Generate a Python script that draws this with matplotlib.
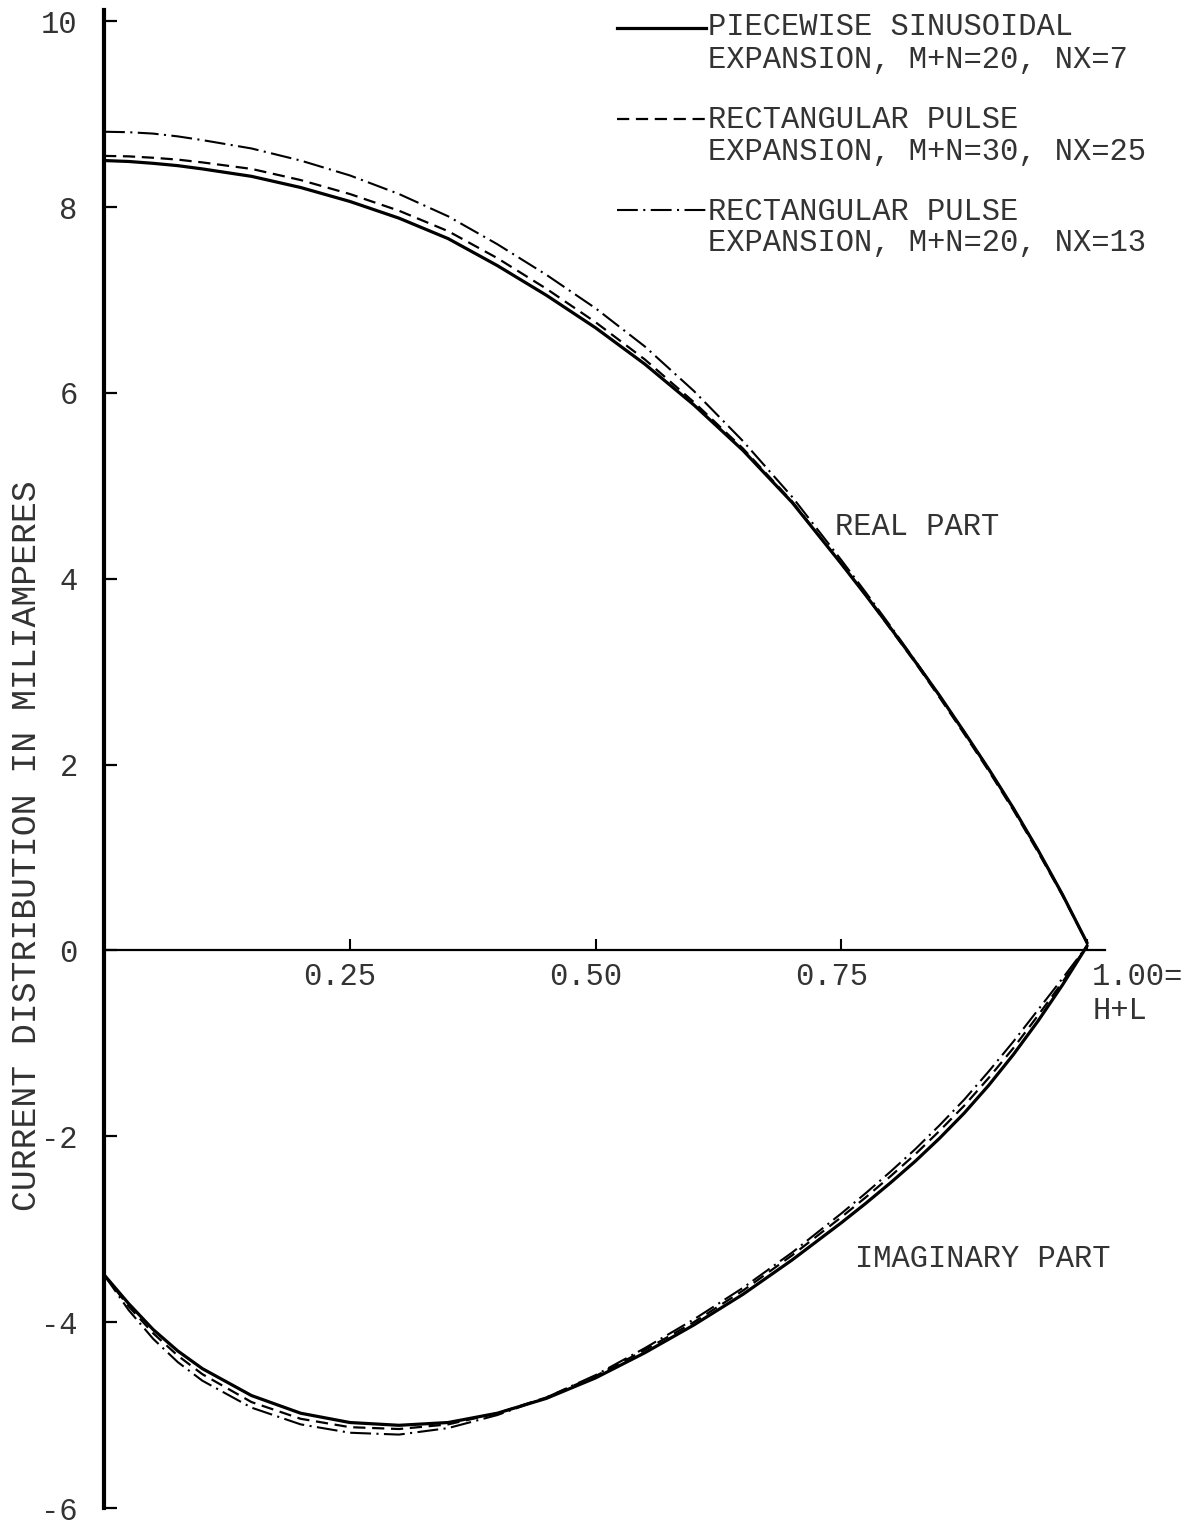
import matplotlib
matplotlib.use("Agg")
import matplotlib.pyplot as plt
import matplotlib.transforms as mtransforms
from matplotlib.lines import Line2D

# position along the antenna, normalised to H+L
x = [0.0, 0.025, 0.05, 0.075, 0.1, 0.15, 0.2, 0.25, 0.3, 0.35, 0.4, 0.45, 0.5, 0.55,
     0.6, 0.65, 0.7, 0.75, 0.775, 0.8, 0.825, 0.85, 0.875, 0.9, 0.925, 0.95, 0.975, 1.0]

# real part of the current (mA)
real_sin20 = [8.50, 8.49, 8.47, 8.445, 8.41, 8.33, 8.21, 8.06, 7.88, 7.66, 7.37, 7.05, 6.70, 6.31,
              5.87, 5.38, 4.82, 4.16, 3.82, 3.47, 3.11, 2.74, 2.35, 1.95, 1.53, 1.08, 0.60, 0.08]
real_pulse30 = [8.55, 8.545, 8.53, 8.51, 8.48, 8.41, 8.29, 8.14, 7.96, 7.74, 7.45, 7.12, 6.76, 6.36,
                5.90, 5.40, 4.83, 4.16, 3.82, 3.46, 3.10, 2.72, 2.33, 1.93, 1.51, 1.06, 0.59, 0.08]
real_pulse20 = [8.81, 8.805, 8.79, 8.76, 8.72, 8.63, 8.50, 8.34, 8.14, 7.90, 7.60, 7.27, 6.91, 6.50,
                6.02, 5.48, 4.88, 4.20, 3.85, 3.49, 3.12, 2.74, 2.35, 1.95, 1.53, 1.08, 0.60, 0.08]

# imaginary part of the current (mA)
imag_sin20 = [-3.49, -3.80, -4.08, -4.31, -4.50, -4.79, -4.98, -5.08, -5.11, -5.08, -4.98, -4.82, -4.60, -4.33,
              -4.03, -3.70, -3.33, -2.93, -2.72, -2.50, -2.27, -2.02, -1.75, -1.45, -1.12, -0.76, -0.37, 0.05]
imag_pulse30 = [-3.49, -3.83, -4.12, -4.36, -4.56, -4.86, -5.04, -5.13, -5.15, -5.10, -4.98, -4.81, -4.58, -4.30,
                -4.00, -3.66, -3.28, -2.87, -2.655, -2.43, -2.195, -1.94, -1.67, -1.37, -1.05, -0.70, -0.34, 0.05]
imag_pulse20 = [-3.49, -3.87, -4.18, -4.43, -4.63, -4.92, -5.10, -5.19, -5.21, -5.14, -5.00, -4.81, -4.57, -4.28,
                -3.97, -3.63, -3.25, -2.83, -2.61, -2.38, -2.14, -1.88, -1.605, -1.30, -0.98, -0.64, -0.30, 0.05]

yticks = [-6, -4, -2, 0, 2, 4, 6, 8, 10]
xticks = [0.25, 0.50, 0.75, 1.00]
xtick_labels = ["0.25", "0.50", "0.75", "1.00=\nH+L"]

legend_labels = [
    ("PIECEWISE SINUSOIDAL", "EXPANSION, M+N=20, NX=7"),
    ("RECTANGULAR PULSE", "EXPANSION, M+N=30, NX=25"),
    ("RECTANGULAR PULSE", "EXPANSION, M+N=20, NX=13"),
]

FONT = "Liberation Mono"
TXT = "#333333"

solid = dict(color="black", lw=2.3, linestyle="-")
dashed = dict(color="black", lw=1.6, dashes=(5.5, 3.0))
dashdot = dict(color="black", lw=1.5, dashes=(10.0, 2.6, 1.0, 2.6))

fig = plt.figure(figsize=(12, 15.29), dpi=100)
ax = fig.add_axes([0.0867, 0.01373, 0.834, 0.97973])
ax.set_xlim(0, 1.018)
ax.set_ylim(-6, 10.12)

for s in ("top", "right"):
    ax.spines[s].set_visible(False)
ax.spines["left"].set_position(("data", 0))
ax.spines["bottom"].set_position(("data", 0))
ax.spines["left"].set_linewidth(3.0)
ax.spines["bottom"].set_linewidth(1.6)

ax.plot(x, real_sin20, solid_capstyle="round", **solid)
ax.plot(x, real_pulse30, **dashed)
ax.plot(x, real_pulse20, **dashdot)
ax.plot(x, imag_sin20, solid_capstyle="round", **solid)
ax.plot(x, imag_pulse30, **dashed)
ax.plot(x, imag_pulse20, **dashdot)

ax.set_yticks(yticks)
ax.set_yticklabels([str(v) for v in yticks])
ax.tick_params(axis="y", direction="in", length=9, width=1.6, pad=19,
               labelsize=22, labelcolor=TXT)
ax.set_xticks(xticks)
ax.set_xticklabels(xtick_labels)
ax.tick_params(axis="x", direction="in", length=8, width=1.5, pad=8,
               labelsize=22, labelcolor=TXT)
for lab in ax.get_yticklabels() + ax.get_xticklabels():
    lab.set_fontfamily(FONT)

# typewritten labels sit a little left of their ticks; the last one starts at the tick
xlabs = ax.get_xticklabels()
for lab in xlabs[:-1]:
    lab.set_transform(lab.get_transform() +
                      mtransforms.ScaledTranslation(-10 / 100, 0, fig.dpi_scale_trans))
xlabs[-1].set_horizontalalignment("left")
xlabs[-1].set_multialignment("left")
xlabs[-1].set_transform(xlabs[-1].get_transform() +
                        mtransforms.ScaledTranslation(5 / 100, 0, fig.dpi_scale_trans))

fig.text(0.022, 0.447, "CURRENT DISTRIBUTION IN MILIAMPERES", rotation=90,
         ha="center", va="center", fontsize=25, family=FONT, color=TXT)

ax.text(0.744, 4.56, "REAL PART", ha="left", va="center",
        fontsize=22, family=FONT, color=TXT)
ax.text(0.764, -3.32, "IMAGINARY PART", ha="left", va="center",
        fontsize=22, family=FONT, color=TXT)

# legend block in the upper right
styles = [solid, dashed, dashdot]
rows_y = [(27, 60), (120, 152), (212, 243)]
line_y = [28, 119, 210]
H = 1529.0
for (l1, l2), st, (y1, y2), ly in zip(legend_labels, styles, rows_y, line_y):
    fig.add_artist(Line2D([617 / 1200, 706 / 1200], [1 - ly / H, 1 - ly / H],
                          transform=fig.transFigure, **st))
    fig.text(708 / 1200, 1 - y1 / H, l1, ha="left", va="center",
             fontsize=22, family=FONT, color=TXT)
    fig.text(708 / 1200, 1 - y2 / H, l2, ha="left", va="center",
             fontsize=22, family=FONT, color=TXT)

fig.savefig("out.png", dpi=100, facecolor="white")
